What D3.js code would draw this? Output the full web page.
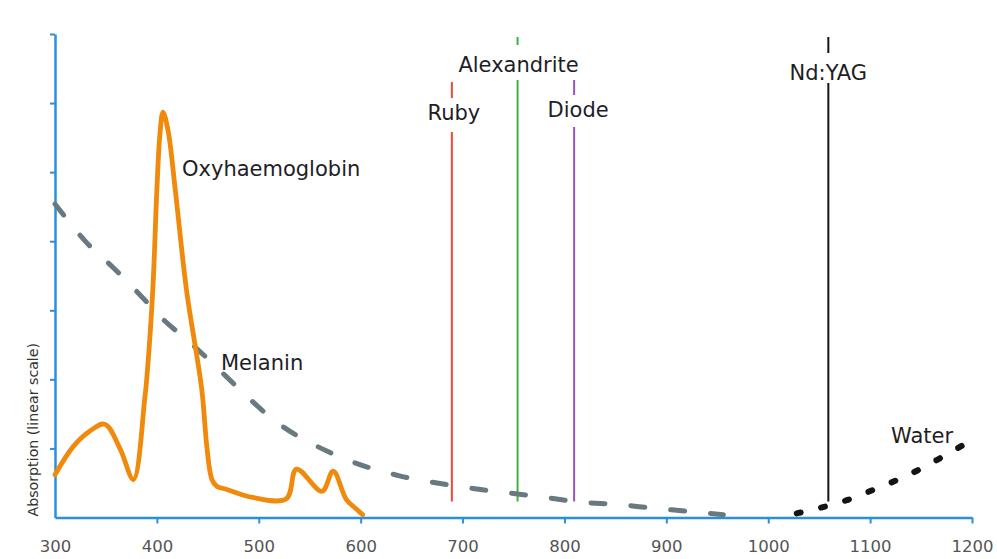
<!DOCTYPE html>
<html>
<head>
<meta charset="utf-8">
<script src="https://cdn.jsdelivr.net/npm/d3@7"></script>
<style>
  body { margin: 0; background: #fff; }
  .lbl { font-family: "DejaVu Sans", Verdana, sans-serif; font-size: 21px; fill: #1e1e24; }
  .tick text { font-family: "DejaVu Sans", Verdana, sans-serif; font-size: 16.5px; fill: #555; }
</style>
</head>
<body>
<div id="chart"></div>
<script>
// wavelength (nm) / absorption (arbitrary linear units)
var oxyNm  = [300, 318, 334, 349, 364, 377, 388, 390, 396, 400, 403, 406, 411, 418, 429, 444, 449, 454, 459, 468, 494, 527, 537, 562, 573, 586, 596, 602];
var oxyAbs = [0.62, 1.03, 1.25, 1.35, 0.99, 0.55, 1.71, 2.0, 3.3, 4.75, 5.55, 5.87, 5.6, 4.75, 3.3, 1.86, 1.03, 0.55, 0.45, 0.41, 0.29, 0.27, 0.7, 0.38, 0.67, 0.26, 0.12, 0.04];

var melNm  = [300, 331, 357, 383, 406, 432, 459, 478, 514, 570, 639, 675, 710, 743, 781, 818, 851, 884, 921, 956];
var melAbs = [4.54, 3.98, 3.62, 3.23, 2.87, 2.54, 2.17, 1.9, 1.42, 0.94, 0.6, 0.5, 0.42, 0.36, 0.29, 0.22, 0.19, 0.14, 0.09, 0.04];

var waterNm  = [1028, 1056, 1079, 1103, 1126, 1149, 1170, 1195];
var waterAbs = [0.06, 0.16, 0.26, 0.4, 0.54, 0.7, 0.87, 1.08];

var laserNames = ["Ruby", "Alexandrite", "Diode", "Nd:YAG"];
var laserNm    = [689.5, 754, 809.5, 1059];

var xTicks = [300, 400, 500, 600, 700, 800, 900, 1000, 1100, 1200];
var yTicks = [1, 2, 3, 4, 5, 6, 7];

// layout of the laser annotations (pixels)
var laserStyle = [
  {color: "#e84a36", top: 82, gapTop: 98,  base: 120, gapBot: 132, dx: 2},
  {color: "#3db33d", top: 37, gapTop: 45,  base: 72,  gapBot: 80,  dx: 1},
  {color: "#9a52c2", top: 80, gapTop: 95,  base: 117, gapBot: 127, dx: 4},
  {color: "#151515", top: 37, gapTop: 53,  base: 80,  gapBot: 83,  dx: 0}
];

var width = 997, height = 559;
var svg = d3.select("#chart").append("svg")
  .attr("width", width).attr("height", height);

var x = d3.scaleLinear().domain([300, 1200]).range([55, 972]);
var y = d3.scaleLinear().domain([0, 7]).range([517.5, 34]);

var axisColor = "#2b8fdc";

// axes
var gx = svg.append("g").attr("transform", "translate(0," + y(0) + ")")
  .call(d3.axisBottom(x).tickValues(xTicks).tickSize(6).tickSizeOuter(0)
    .tickPadding(17).tickFormat(d3.format("d")));
var gy = svg.append("g").attr("transform", "translate(" + x(300) + ",0)")
  .call(d3.axisLeft(y).tickValues(yTicks).tickSize(5).tickSizeOuter(0).tickFormat(""));
[gx, gy].forEach(function(g) {
  g.select(".domain").attr("stroke", axisColor).attr("stroke-width", 2.5);
  g.selectAll(".tick line").attr("stroke", axisColor).attr("stroke-width", 2);
});
gx.selectAll(".tick").filter(function(d) { return d === 300; }).select("line").remove();

svg.append("text")
  .attr("transform", "translate(38," + (y(0) - 1) + ") rotate(-90)")
  .attr("text-anchor", "start")
  .style("font-family", "'DejaVu Sans', Verdana, sans-serif")
  .style("font-size", "14.2px")
  .style("fill", "#333")
  .text("Absorption (linear scale)");

var line = d3.line()
  .x(function(d) { return x(d[0]); })
  .y(function(d) { return y(d[1]); });

// laser lines
laserNm.forEach(function(nm, i) {
  var s = laserStyle[i];
  var lx = x(nm);
  svg.append("line").attr("x1", lx).attr("x2", lx).attr("y1", s.top).attr("y2", s.gapTop)
    .attr("stroke", s.color).attr("stroke-width", 2);
  svg.append("line").attr("x1", lx).attr("x2", lx).attr("y1", s.gapBot).attr("y2", y(0.23))
    .attr("stroke", s.color).attr("stroke-width", 2);
  svg.append("text").attr("class", "lbl")
    .attr("x", lx + s.dx).attr("y", s.base)
    .attr("text-anchor", "middle")
    .text(laserNames[i]);
});

// melanin
svg.append("path")
  .datum(d3.zip(melNm, melAbs))
  .attr("d", line.curve(d3.curveMonotoneX))
  .attr("fill", "none")
  .attr("stroke", "#687a80")
  .attr("stroke-width", 5)
  .attr("stroke-linecap", "round")
  .attr("stroke-dasharray", "14,26");

// water
svg.append("path")
  .datum(d3.zip(waterNm, waterAbs))
  .attr("d", line.curve(d3.curveMonotoneX))
  .attr("fill", "none")
  .attr("stroke", "#141414")
  .attr("stroke-width", 6)
  .attr("stroke-linecap", "round")
  .attr("stroke-dasharray", "4,21");

// oxyhaemoglobin
svg.append("path")
  .datum(d3.zip(oxyNm, oxyAbs))
  .attr("d", line.curve(d3.curveCatmullRom.alpha(0.5)))
  .attr("fill", "none")
  .attr("stroke", "#f08a0c")
  .attr("stroke-width", 4.8)
  .attr("stroke-linejoin", "round")
  .attr("stroke-linecap", "round");

// curve labels
svg.append("text").attr("class", "lbl").attr("x", 182).attr("y", 176).text("Oxyhaemoglobin");
svg.append("text").attr("class", "lbl").attr("x", 221).attr("y", 370).text("Melanin");
svg.append("text").attr("class", "lbl").attr("x", 891).attr("y", 443).text("Water");
</script>
</body>
</html>
